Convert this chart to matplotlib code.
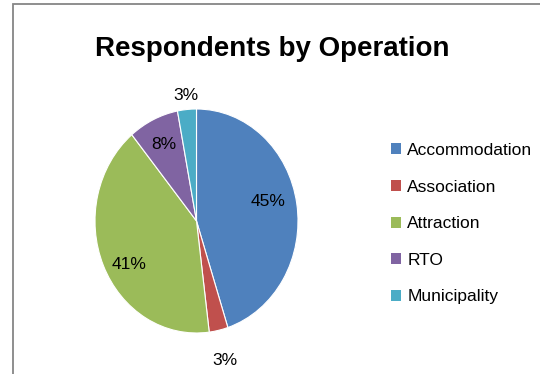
import matplotlib
matplotlib.use('Agg')
import numpy as np
import matplotlib.pyplot as plt
from matplotlib.patches import Rectangle

# Dados
operations = ['Accommodation', 'Association', 'Attraction', 'RTO', 'Municipality']
shares = [45, 3, 41, 8, 3]
colors = ['#4F81BD', '#C0504D', '#9BBB59', '#8064A2', '#4BACC6']

# posição dos rótulos (distância do centro, ajuste de ângulo em graus)
label_dist = [0.725, 1.28, 0.767, 0.751, 1.127]
label_shift = [4.7, 0, 6.9, 0, 0]

plt.rcParams['font.family'] = 'Liberation Sans'

W, H = 540, 374
fig = plt.figure(figsize=(W / 100, H / 100), dpi=100)

# moldura cinza do gráfico
fig.patches.append(Rectangle((13 / W, -0.1), 1.2, 1 - 4 / H + 0.1, transform=fig.transFigure,
                             fill=False, edgecolor='#868686', linewidth=1.3))

# eixo da pizza (levemente esticada na vertical, como no original)
ax = fig.add_axes([95 / W, (H - 333) / H, 203 / W, 224 / H])
wedges, _ = ax.pie(shares, colors=colors, startangle=90, counterclock=False,
                   wedgeprops={'linewidth': 0.8, 'edgecolor': 'white'})
ax.set_aspect('auto')
ax.set_xlim(-1, 1)
ax.set_ylim(-1, 1)

for w, val, d, s in zip(wedges, shares, label_dist, label_shift):
    ang = np.deg2rad((w.theta1 + w.theta2) / 2 + s)
    ax.text(d * np.cos(ang), d * np.sin(ang), f'{val}%', ha='center', va='center',
            fontsize=12.5, color='black')

fig.text(272 / W, 1 - 55.5 / H, 'Respondents by Operation', ha='center', va='baseline',
         fontsize=20, fontweight='bold')

leg = fig.legend(wedges, operations, loc='upper left', bbox_to_anchor=(384 / W, 1 - 136 / H),
                 frameon=False, fontsize=12.5, handlelength=0.6, handleheight=0.6,
                 handletextpad=0.35, labelspacing=1.245, borderaxespad=0)
for h in leg.legend_handles:
    h.set_edgecolor('none')

fig.savefig('out.png', dpi=100)
